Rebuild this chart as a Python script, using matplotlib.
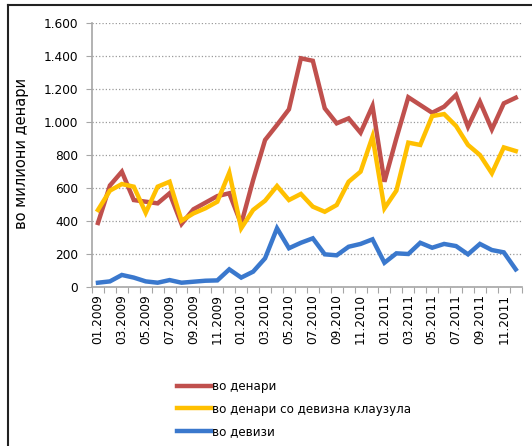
import matplotlib
matplotlib.use("Agg")
import matplotlib.pyplot as plt
from matplotlib.lines import Line2D
import numpy as np

months = [f"{m:02d}.{y}" for y in (2009, 2010, 2011) for m in range(1, 13)]

vo_denari = [388, 615, 699, 527, 517, 507, 568, 382, 471, 511, 551, 568,
             382, 648, 891, 982, 1077, 1386, 1371, 1083, 992, 1022, 935, 1097,
             638, 901, 1150, 1103, 1056, 1093, 1164, 971, 1123, 955, 1113, 1147]
so_klauzula = [467, 584, 624, 608, 450, 608, 638, 402, 446, 477, 517, 693,
               356, 467, 523, 612, 527, 564, 487, 456, 497, 638, 699, 911,
               477, 584, 875, 861, 1036, 1048, 976, 861, 800, 689, 846, 824]
vo_devizi = [26, 34, 73, 57, 34, 26, 42, 26, 32, 38, 40, 107,
             57, 93, 174, 356, 235, 268, 295, 198, 192, 244, 261, 289,
             147, 204, 200, 268, 238, 261, 248, 198, 261, 224, 210, 107]

series_names = ["во денари", "во денари со девизна клаузула", "во девизи"]
colors = ["#C0504D", "#FFC000", "#3A78CD"]

plt.rcParams['font.family'] = ['DejaVu Sans']

W, H = 532, 446
fig = plt.figure(figsize=(W / 100, H / 100), dpi=100)
ax = fig.add_axes([92 / W, 1 - 287 / H, (521.7 - 92) / W, (287 - 23) / H])

x = np.arange(len(months))
for vals, name, c in zip([vo_denari, so_klauzula, vo_devizi], series_names, colors):
    ax.plot(x, vals, color=c, lw=3.2, label=name, solid_joinstyle='miter')

ax.set_xlim(-0.5, len(months) - 0.5)
ax.set_ylim(0, 1600)
yt = np.arange(0, 1601, 200)
ax.set_yticks(yt)
ax.set_yticklabels([f"{v:,}".replace(",", ".") for v in yt], fontsize=8.7)
ax.yaxis.grid(True, linestyle=':', color='#9A9A9A', lw=0.9)
ax.set_axisbelow(True)

ax.set_xticks(x[::2])
ax.set_xticklabels(months[::2], rotation=90, fontsize=8.7)
ax.set_xticks(np.arange(-0.5, len(months), 1), minor=True)
ax.tick_params(axis='x', which='major', length=0, pad=5)
ax.tick_params(axis='x', which='minor', length=4, color='#A6A6A6', width=0.8)
ax.tick_params(axis='y', length=4, color='#A6A6A6', width=0.8, pad=6)

for s in ['top', 'right']:
    ax.spines[s].set_visible(False)
for s in ['left', 'bottom']:
    ax.spines[s].set_color('#A6A6A6')
    ax.spines[s].set_linewidth(1.2)

fig.text(22 / W, 1 - 153 / H, "во милиони денари", rotation=90, fontsize=10.5,
         ha='center', va='center')

handles, labels = ax.get_legend_handles_labels()
fig.legend(handles, labels, loc='upper left', bbox_to_anchor=(172 / W, 1 - 375 / H),
           frameon=False, fontsize=8.6, handlelength=2.9, handletextpad=0.05,
           labelspacing=0.82, borderaxespad=0)

# outer frame (left and top visible)
fig.add_artist(Line2D([7.5 / W, 7.5 / W], [0, 1 - 5 / H], transform=fig.transFigure,
                      color='#222222', lw=1.5))
fig.add_artist(Line2D([7.5 / W, 1], [1 - 5 / H, 1 - 5 / H], transform=fig.transFigure,
                      color='#222222', lw=1.5))

fig.savefig("out.png", dpi=100)
